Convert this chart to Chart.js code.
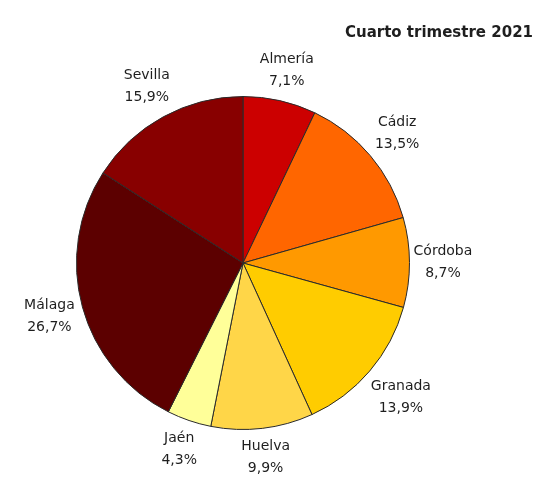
<!DOCTYPE html>
<html>
<head>
<meta charset="utf-8">
<script src="https://cdn.jsdelivr.net/npm/chart.js@4"></script>
<style>
    html, body { margin: 0; padding: 0; background: #fff; }
    #wrap { width: 536px; height: 479px; }
</style>
</head>
<body>
<div id="wrap"><canvas id="pieChart"></canvas></div>
<script>
// Chart data
const provinces = ['Almería', 'Cádiz', 'Córdoba', 'Granada', 'Huelva', 'Jaén', 'Málaga', 'Sevilla'];
const shares = [7.1, 13.5, 8.7, 13.9, 9.9, 4.3, 26.7, 15.9];
const sliceColors = ['#cc0000', '#ff6600', '#ff9900', '#ffcc00', '#ffd648', '#ffff99', '#5c0000', '#880000'];
const chartTitle = 'Cuarto trimestre 2021';

// Format share as "7,1%"
function formatShare(value) {
    return value.toFixed(1).replace('.', ',') + '%';
}

// Draws title and outside labels
const labelPlugin = {
    id: 'outsideLabels',
    afterDraw(chart) {
        const ctx = chart.ctx;
        const meta = chart.getDatasetMeta(0);
        ctx.save();
        ctx.fillStyle = '#1e1e1e';
        ctx.textAlign = 'center';
        ctx.textBaseline = 'middle';
        ctx.font = '14px "DejaVu Sans", Verdana, sans-serif';
        const lineH = 22;
        meta.data.forEach((arc, i) => {
            const mid = (arc.startAngle + arc.endAngle) / 2;
            const cos = Math.cos(mid), sin = Math.sin(mid);
            const l1 = provinces[i], l2 = formatShare(shares[i]);
            const w = Math.max(ctx.measureText(l1).width, ctx.measureText(l2).width);
            const h = lineH * 2;
            const d = arc.outerRadius + 4 + Math.abs(cos) * w / 2 + Math.abs(sin) * h / 2;
            const x = arc.x + cos * d;
            const y = arc.y + sin * d;
            ctx.fillText(l1, x, y - lineH / 2);
            ctx.fillText(l2, x, y + lineH / 2);
        });
        ctx.font = 'bold 15px "DejaVu Sans", Verdana, sans-serif';
        ctx.textAlign = 'right';
        ctx.fillText(chartTitle, 533, 33);
        ctx.restore();
    }
};

const ctx = document.getElementById('pieChart').getContext('2d');
new Chart(ctx, {
    type: 'pie',
    data: {
        labels: provinces,
        datasets: [{
            data: shares,
            backgroundColor: sliceColors,
            borderColor: '#2a2a2a',
            borderWidth: 1
        }]
    },
    options: {
        responsive: true,
        maintainAspectRatio: false,
        animation: false,
        layout: {
            padding: { top: 95, bottom: 48, left: 76, right: 126 }
        },
        plugins: {
            legend: { display: false },
            tooltip: { enabled: false }
        }
    },
    plugins: [labelPlugin]
});
</script>
</body>
</html>
